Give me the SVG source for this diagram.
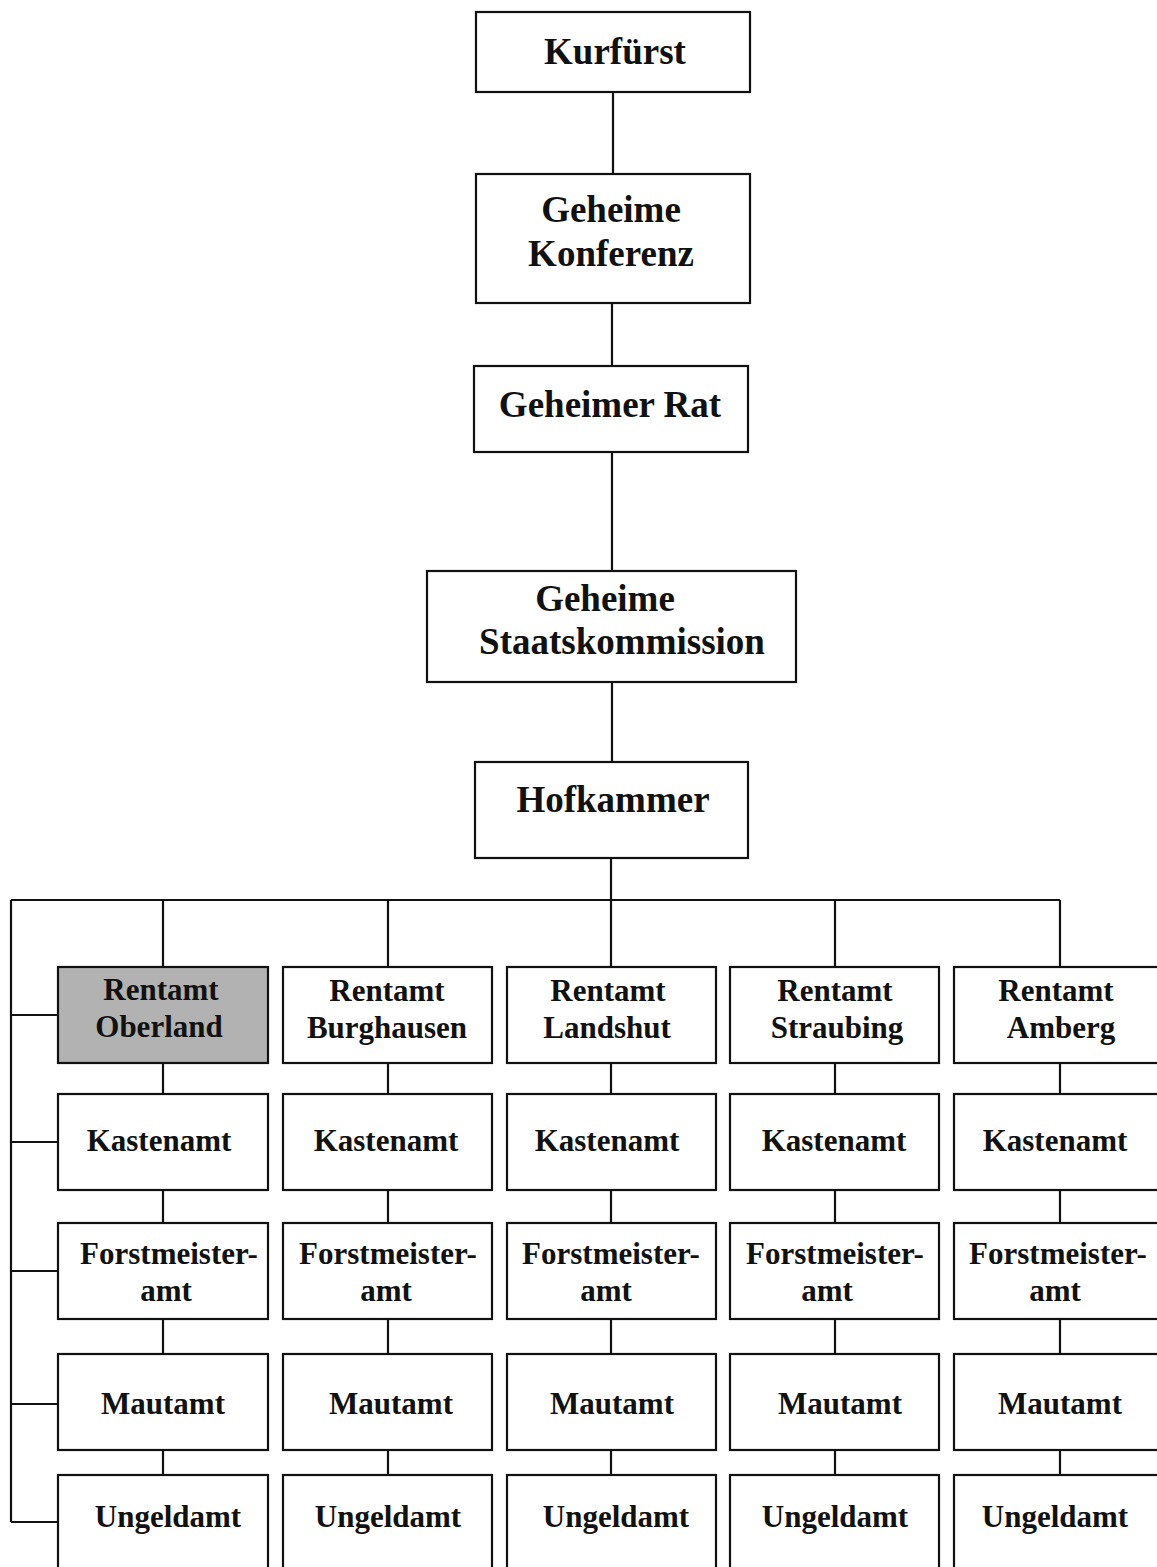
<svg xmlns="http://www.w3.org/2000/svg" width="1157" height="1567" viewBox="0 0 1157 1567">
  <style>
    .box { fill: #ffffff; stroke: #111111; stroke-width: 2.2; }
    .shaded { fill: #b2b2b2; }
    .wire { fill: none; stroke: #111111; stroke-width: 2.2; }
    text { font-family: "Liberation Serif", "Times New Roman", serif; font-weight: bold; fill: #111111; text-anchor: middle; }
    .big { font-size: 37px; }
    .small { font-size: 31px; }
  </style>

  <!-- connectors -->
  <g id="connectors">
    <path class="wire" d="M613 92 V174 M612 303 V366 M612 452 V571 M612 682 V762 M611 858 V900"/>
    <!-- distribution bus to the five Rentämter -->
    <path class="wire" d="M11 900 H1060 M163 900 V967 M388 900 V967 M611 900 V967 M835 900 V967 M1060 900 V967"/>
    <!-- left rail feeding each row of the first column -->
    <path class="wire" d="M11 900 V1522 M11 1015 H58 M11 1142 H58 M11 1271 H58 M11 1404 H58 M11 1522 H58"/>
    <!-- column chains -->
    <path class="wire" d="M163 1063 V1094 M163 1190 V1223 M163 1319 V1354 M163 1450 V1475"/>
    <path class="wire" d="M388 1063 V1094 M388 1190 V1223 M388 1319 V1354 M388 1450 V1475"/>
    <path class="wire" d="M611 1063 V1094 M611 1190 V1223 M611 1319 V1354 M611 1450 V1475"/>
    <path class="wire" d="M835 1063 V1094 M835 1190 V1223 M835 1319 V1354 M835 1450 V1475"/>
    <path class="wire" d="M1060 1063 V1094 M1060 1190 V1223 M1060 1319 V1354 M1060 1450 V1475"/>
  </g>

  <!-- upper chain -->
  <g id="kurfuerst">
    <rect class="box" x="476" y="12" width="274" height="80"/>
    <text class="big" x="615" y="64">Kurfürst</text>
  </g>
  <g id="geheime-konferenz">
    <rect class="box" x="476" y="174" width="274" height="129"/>
    <text class="big" x="611" y="222">Geheime</text>
    <text class="big" x="611" y="266">Konferenz</text>
  </g>
  <g id="geheimer-rat">
    <rect class="box" x="474" y="366" width="274" height="86"/>
    <text class="big" x="610" y="417">Geheimer Rat</text>
  </g>
  <g id="geheime-staatskommission">
    <rect class="box" x="427" y="571" width="369" height="111"/>
    <text class="big" x="605" y="611">Geheime</text>
    <text class="big" x="622" y="654">Staatskommission</text>
  </g>
  <g id="hofkammer">
    <rect class="box" x="475" y="762" width="273" height="96"/>
    <text class="big" x="613" y="812">Hofkammer</text>
  </g>

  <!-- Rentamt Oberland column -->
  <g id="rentamt-oberland">
    <rect class="box shaded" x="58" y="967" width="210" height="96"/>
    <text class="small" x="161" y="1000">Rentamt</text>
    <text class="small" x="159" y="1037">Oberland</text>
  </g>
  <g id="kastenamt-oberland">
    <rect class="box" x="58" y="1094" width="210" height="96"/>
    <text class="small" x="159" y="1151">Kastenamt</text>
  </g>
  <g id="forstmeisteramt-oberland">
    <rect class="box" x="58" y="1223" width="210" height="96"/>
    <text class="small" x="169" y="1264">Forstmeister-</text>
    <text class="small" x="166" y="1301">amt</text>
  </g>
  <g id="mautamt-oberland">
    <rect class="box" x="58" y="1354" width="210" height="96"/>
    <text class="small" x="163" y="1414">Mautamt</text>
  </g>
  <g id="ungeldamt-oberland">
    <rect class="box" x="58" y="1475" width="210" height="100"/>
    <text class="small" x="168" y="1527">Ungeldamt</text>
  </g>

  <!-- Rentamt Burghausen column -->
  <g id="rentamt-burghausen">
    <rect class="box" x="283" y="967" width="209" height="96"/>
    <text class="small" x="387" y="1001">Rentamt</text>
    <text class="small" x="387" y="1038">Burghausen</text>
  </g>
  <g id="kastenamt-burghausen">
    <rect class="box" x="283" y="1094" width="209" height="96"/>
    <text class="small" x="386" y="1151">Kastenamt</text>
  </g>
  <g id="forstmeisteramt-burghausen">
    <rect class="box" x="283" y="1223" width="209" height="96"/>
    <text class="small" x="388" y="1264">Forstmeister-</text>
    <text class="small" x="386" y="1301">amt</text>
  </g>
  <g id="mautamt-burghausen">
    <rect class="box" x="283" y="1354" width="209" height="96"/>
    <text class="small" x="391" y="1414">Mautamt</text>
  </g>
  <g id="ungeldamt-burghausen">
    <rect class="box" x="283" y="1475" width="209" height="100"/>
    <text class="small" x="388" y="1527">Ungeldamt</text>
  </g>

  <!-- Rentamt Landshut column -->
  <g id="rentamt-landshut">
    <rect class="box" x="507" y="967" width="209" height="96"/>
    <text class="small" x="608" y="1001">Rentamt</text>
    <text class="small" x="607" y="1038">Landshut</text>
  </g>
  <g id="kastenamt-landshut">
    <rect class="box" x="507" y="1094" width="209" height="96"/>
    <text class="small" x="607" y="1151">Kastenamt</text>
  </g>
  <g id="forstmeisteramt-landshut">
    <rect class="box" x="507" y="1223" width="209" height="96"/>
    <text class="small" x="611" y="1264">Forstmeister-</text>
    <text class="small" x="606" y="1301">amt</text>
  </g>
  <g id="mautamt-landshut">
    <rect class="box" x="507" y="1354" width="209" height="96"/>
    <text class="small" x="612" y="1414">Mautamt</text>
  </g>
  <g id="ungeldamt-landshut">
    <rect class="box" x="507" y="1475" width="209" height="100"/>
    <text class="small" x="616" y="1527">Ungeldamt</text>
  </g>

  <!-- Rentamt Straubing column -->
  <g id="rentamt-straubing">
    <rect class="box" x="730" y="967" width="209" height="96"/>
    <text class="small" x="835" y="1001">Rentamt</text>
    <text class="small" x="837" y="1038">Straubing</text>
  </g>
  <g id="kastenamt-straubing">
    <rect class="box" x="730" y="1094" width="209" height="96"/>
    <text class="small" x="834" y="1151">Kastenamt</text>
  </g>
  <g id="forstmeisteramt-straubing">
    <rect class="box" x="730" y="1223" width="209" height="96"/>
    <text class="small" x="835" y="1264">Forstmeister-</text>
    <text class="small" x="827" y="1301">amt</text>
  </g>
  <g id="mautamt-straubing">
    <rect class="box" x="730" y="1354" width="209" height="96"/>
    <text class="small" x="840" y="1414">Mautamt</text>
  </g>
  <g id="ungeldamt-straubing">
    <rect class="box" x="730" y="1475" width="209" height="100"/>
    <text class="small" x="835" y="1527">Ungeldamt</text>
  </g>

  <!-- Rentamt Amberg column -->
  <g id="rentamt-amberg">
    <rect class="box" x="954" y="967" width="209" height="96"/>
    <text class="small" x="1056" y="1001">Rentamt</text>
    <text class="small" x="1061" y="1038">Amberg</text>
  </g>
  <g id="kastenamt-amberg">
    <rect class="box" x="954" y="1094" width="209" height="96"/>
    <text class="small" x="1055" y="1151">Kastenamt</text>
  </g>
  <g id="forstmeisteramt-amberg">
    <rect class="box" x="954" y="1223" width="209" height="96"/>
    <text class="small" x="1058" y="1264">Forstmeister-</text>
    <text class="small" x="1055" y="1301">amt</text>
  </g>
  <g id="mautamt-amberg">
    <rect class="box" x="954" y="1354" width="209" height="96"/>
    <text class="small" x="1060" y="1414">Mautamt</text>
  </g>
  <g id="ungeldamt-amberg">
    <rect class="box" x="954" y="1475" width="209" height="100"/>
    <text class="small" x="1055" y="1527">Ungeldamt</text>
  </g>
</svg>
